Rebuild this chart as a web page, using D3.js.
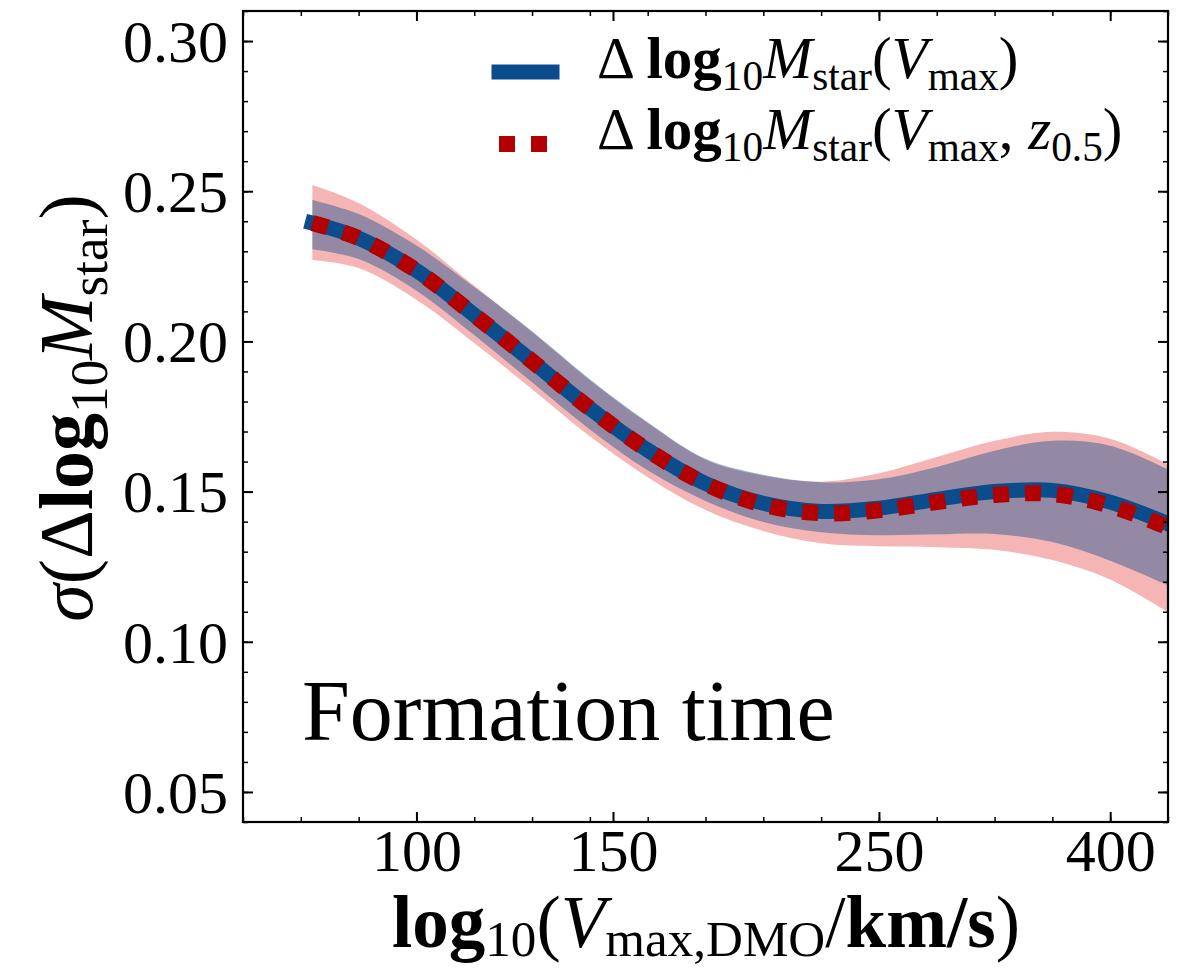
<!DOCTYPE html>
<html>
<head>
<meta charset="utf-8">
<script src="https://cdn.jsdelivr.net/npm/d3@7"></script>
<style>
  body { margin: 0; background: #fff; }
  text { font-family: "Liberation Serif", "DejaVu Serif", serif; fill: #000; }
</style>
</head>
<body>
<div id="chart"></div>
<script>
// log10(Vmax) sample points
var logV = [1.91, 1.95, 2.00, 2.05, 2.10, 2.15, 2.20, 2.25, 2.30, 2.35, 2.40, 2.45, 2.50, 2.55, 2.60, 2.65];

// sigma of Delta log10 Mstar(Vmax)  (blue)
var sigVmax = [0.2394, 0.2344, 0.2236, 0.2088, 0.1934, 0.1777, 0.1638, 0.1527, 0.1461, 0.1434, 0.1445, 0.1474, 0.1500, 0.1504, 0.1465, 0.1393];
var bandVmaxLo = [0.2307, 0.2274, 0.2169, 0.2021, 0.1864, 0.1707, 0.1571, 0.1469, 0.1399, 0.1365, 0.1355, 0.1358, 0.1359, 0.1332, 0.1270, 0.1188];
var bandVmaxHi = [0.2471, 0.2424, 0.2319, 0.2181, 0.2034, 0.1874, 0.1731, 0.1609, 0.1556, 0.1531, 0.1541, 0.1582, 0.1636, 0.1669, 0.1653, 0.1574];

// sigma of Delta log10 Mstar(Vmax, z0.5)  (red)
var sigVmaxZ = [0.2394, 0.2344, 0.2236, 0.2088, 0.1934, 0.1777, 0.1638, 0.1526, 0.1456, 0.1428, 0.1438, 0.1465, 0.1489, 0.1492, 0.1453, 0.1381];
var bandZLo = [0.2271, 0.2244, 0.2139, 0.1995, 0.1841, 0.1684, 0.1548, 0.1439, 0.1369, 0.1328, 0.1318, 0.1315, 0.1306, 0.1272, 0.1207, 0.1098];
var bandZHi = [0.2521, 0.2461, 0.2339, 0.2185, 0.2031, 0.1870, 0.1728, 0.1606, 0.1553, 0.1533, 0.1561, 0.1615, 0.1669, 0.1699, 0.1676, 0.1591];

// axis ticks
var xTickPos = [2.0, 2.17, 2.4, 2.6];
var xTickLabels = ["100", "150", "250", "400"];
var yTicks = [0.05, 0.10, 0.15, 0.20, 0.25, 0.30];

var margin = {top: 11, right: 24, bottom: 146, left: 243},
    width = 1192 - margin.left - margin.right,
    height = 968 - margin.top - margin.bottom;

var x = d3.scaleLinear().domain([1.85, 2.65]).range([0, width]);
var y = d3.scaleLinear().domain([0.04, 0.31]).range([height, 0]);

var svg = d3.select("#chart").append("svg")
    .attr("width", 1192)
    .attr("height", 968);

var g = svg.append("g")
    .attr("transform", "translate(" + margin.left + "," + margin.top + ")");

g.append("clipPath").attr("id", "plotclip")
  .append("rect").attr("width", width).attr("height", height);

var plot = g.append("g").attr("clip-path", "url(#plotclip)");

var curve = d3.curveCatmullRom.alpha(0.5);

function band(lo, hi) {
  return d3.area()
    .x(function(d, i) { return x(logV[i]); })
    .y0(function(d, i) { return y(lo[i]); })
    .y1(function(d, i) { return y(hi[i]); })
    .curve(curve)(logV);
}
function line(vals) {
  return d3.line()
    .x(function(d, i) { return x(logV[i]); })
    .y(function(d, i) { return y(vals[i]); })
    .curve(curve)(logV);
}

plot.append("path").attr("d", band(bandZLo, bandZHi)).attr("fill", "#f5b5b5");
plot.append("path").attr("d", band(bandVmaxLo, bandVmaxHi)).attr("fill", "#0b4c8c").attr("fill-opacity", 0.42);

plot.append("path").attr("d", line(sigVmax))
    .attr("fill", "none").attr("stroke", "#0b4c8c")
    .attr("stroke-width", 15).attr("stroke-linecap", "square");
plot.append("path").attr("d", line(sigVmaxZ))
    .attr("fill", "none").attr("stroke", "#b30000")
    .attr("stroke-width", 16).attr("stroke-dasharray", "16,16");

// axes - ticks point inward on all four sides
var xMinor = d3.range(1.85, 2.651, 0.05);
var yMinor = d3.range(0.04, 0.311, 0.01);

function styleAxis(sel, w) {
  sel.select(".domain").remove();
  sel.selectAll(".tick line").attr("stroke", "#000").attr("stroke-width", w);
}

g.append("g").attr("transform", "translate(0," + height + ")")
  .call(d3.axisBottom(x).tickValues(xMinor).tickSize(-5).tickFormat(""))
  .call(styleAxis, 1.5);
g.append("g")
  .call(d3.axisTop(x).tickValues(xMinor).tickSize(-5).tickFormat(""))
  .call(styleAxis, 1.5);
g.append("g")
  .call(d3.axisLeft(y).tickValues(yMinor).tickSize(-5).tickFormat(""))
  .call(styleAxis, 1.5);
g.append("g").attr("transform", "translate(" + width + ",0)")
  .call(d3.axisRight(y).tickValues(yMinor).tickSize(-5).tickFormat(""))
  .call(styleAxis, 1.5);

var xAxis = g.append("g").attr("transform", "translate(0," + height + ")")
  .call(d3.axisBottom(x).tickValues(xTickPos).tickSize(-10).tickPadding(6)
        .tickFormat(function(d, i) { return xTickLabels[i]; }))
  .call(styleAxis, 2);
g.append("g")
  .call(d3.axisTop(x).tickValues(xTickPos).tickSize(-10).tickFormat(""))
  .call(styleAxis, 2);
var yAxis = g.append("g")
  .call(d3.axisLeft(y).tickValues(yTicks).tickSize(-10).tickPadding(15)
        .tickFormat(d3.format(".2f")))
  .call(styleAxis, 2);
g.append("g").attr("transform", "translate(" + width + ",0)")
  .call(d3.axisRight(y).tickValues(yTicks).tickSize(-10).tickFormat(""))
  .call(styleAxis, 2);

xAxis.selectAll("text").attr("font-size", 60).attr("font-family", null);
yAxis.selectAll("text").attr("font-size", 60).attr("font-family", null).attr("dy", "0.34em");

g.append("rect").attr("width", width).attr("height", height)
  .attr("fill", "none").attr("stroke", "#000").attr("stroke-width", 2.2);

// rich text with bold / italic / subscript parts
function rich(parent, parts, size, subShift) {
  var t = parent.append("text").attr("font-size", size);
  var shift = 0;
  parts.forEach(function(p) {
    var st = p[1] || "";
    var sub = st.indexOf("s") >= 0;
    var target = sub ? size * subShift : 0;
    var ts = t.append("tspan").text(p[0]).attr("dy", target - shift);
    shift = target;
    if (sub) ts.attr("font-size", size * 0.7);
    if (st.indexOf("b") >= 0) ts.attr("font-weight", "bold");
    if (st.indexOf("i") >= 0) ts.attr("font-style", "italic");
  });
  return t;
}

// legend
var legX = 499 - margin.left, legW = 53;
g.append("line").attr("x1", legX).attr("x2", legX + legW).attr("y1", 72 - margin.top).attr("y2", 72 - margin.top)
  .attr("stroke", "#0b4c8c").attr("stroke-width", 15).attr("stroke-linecap", "square");
g.append("line").attr("x1", legX).attr("x2", legX + legW).attr("y1", 144 - margin.top).attr("y2", 144 - margin.top)
  .attr("stroke", "#b30000").attr("stroke-width", 16).attr("stroke-dasharray", "16,16");

rich(g, [["\u0394 ", ""], ["log", "b"], ["10", "s"], ["M", "i"], ["star", "s"], ["(", ""], ["V", "i"], ["max", "s"], [")", ""]], 59, 0.2)
  .attr("x", 597 - margin.left).attr("y", 78 - margin.top);
rich(g, [["\u0394 ", ""], ["log", "b"], ["10", "s"], ["M", "i"], ["star", "s"], ["(", ""], ["V", "i"], ["max", "s"], [", ", ""], ["z", "i"], ["0.5", "s"], [")", ""]], 59, 0.2)
  .attr("x", 597 - margin.left).attr("y", 149 - margin.top);

// annotation
g.append("text").attr("x", 302 - margin.left).attr("y", 740 - margin.top)
  .attr("font-size", 86).text("Formation time");

// axis labels
rich(svg, [["log", "b"], ["10", "s"], ["(", ""], ["V", "i"], ["max,DMO", "s"], ["/", ""], ["km/s", "b"], [")", ""]], 73, 0.13)
  .attr("x", 706).attr("y", 947).attr("text-anchor", "middle");

var yl = svg.append("g").attr("transform", "translate(92,408) rotate(-90)");
rich(yl, [["\u03C3", "i"], ["(", ""], ["\u0394", ""], ["log", "b"], ["10", "s"], ["M", "i"], ["star", "s"], [")", ""]], 76, 0.2)
  .attr("text-anchor", "middle");
</script>
</body>
</html>
